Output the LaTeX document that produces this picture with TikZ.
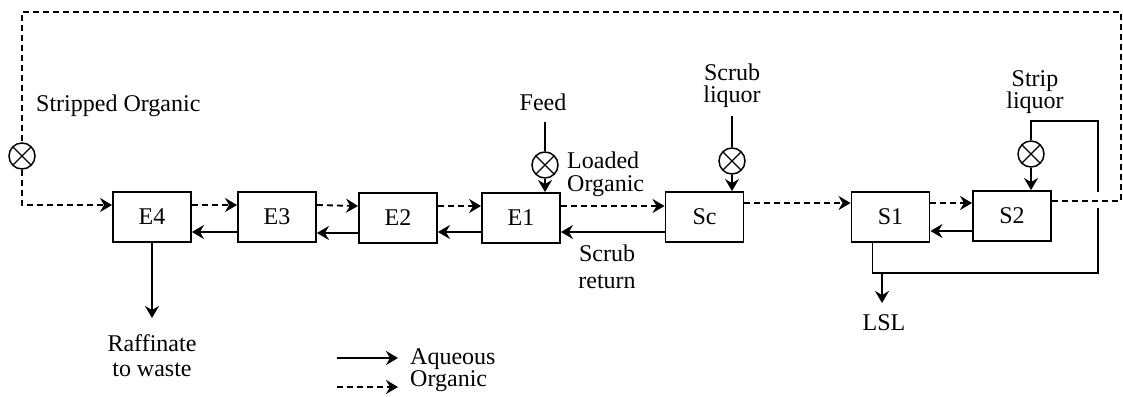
\documentclass[tikz,border=0pt]{standalone}
\usepackage{fontspec}
\setmainfont{Liberation Serif}
\usetikzlibrary{arrows.meta,calc}
\begin{document}
\begin{tikzpicture}[x=1pt,y=-1pt,
  every node/.style={font=\fontsize{24}{24}\selectfont, inner sep=0pt},
  unit/.style={draw, line width=1.9pt, minimum width=78pt, minimum height=50pt},
  ln/.style={line width=1.9pt},
  aq/.style={ln, -{Stealth[length=12pt,width=14pt,inset=4pt]}},
  orgline/.style={ln, dash pattern=on 6pt off 4pt},
  org/.style={aq, dash pattern=on 6pt off 4pt},
  valve/.style={circle, draw, line width=1.5pt, minimum size=26pt,
    path picture={\draw[line width=1.3pt] (path picture bounding box.north west) -- (path picture bounding box.south east)
      (path picture bounding box.north east) -- (path picture bounding box.south west);}}]
\useasboundingbox (0,0) rectangle (1123,396);

% units
\node[unit] (E4) at (152,217) {E4};
\node[unit] (E3) at (277,217) {E3};
\node[unit] (E2) at (398,218) {E2};
\node[unit] (E1) at (521,218) {E1};
\node[unit] (Sc) at (704.5,217) {Sc};
\node[unit] (S1) at (890.5,217) {S1};
\node[unit] (S2) at (1012,216) {S2};

% organic forward
\draw[org] ([yshift=12]E4.east) -- ([yshift=12]E3.west);
\draw[org] ([yshift=12]E3.east) -- ([yshift=12]E2.west);
\draw[org] ([yshift=12]E2.east) -- ([yshift=12]E1.west);
\draw[org] ([yshift=12]E1.east) -- ([yshift=12]E1.east -| Sc.west);
\draw[org] ([yshift=14]Sc.east) -- ([yshift=14]Sc.east -| S1.west);
\draw[org] ([yshift=14]S1.east) -- ([yshift=14]S1.east -| S2.west);

% aqueous backward
\draw[aq] ([yshift=-15]E3.west) -- ([yshift=-15]E3.west -| E4.east);
\draw[aq] ([yshift=-15]E2.west) -- ([yshift=-15]E2.west -| E3.east);
\draw[aq] ([yshift=-14]E1.west) -- ([yshift=-14]E1.west -| E2.east);
\draw[aq] ([yshift=-15]Sc.west) -- ([yshift=-15]Sc.west -| E1.east);
\draw[aq] ([yshift=-15]S2.west) -- ([yshift=-15]S2.west -| S1.east);

% stripped organic recycle
\node[valve] (SOV) at (22,156) {};
\coordinate (rc) at (1121,201);
\coordinate (tr) at (1121,12);
\coordinate (tl) at (22,12);
\draw[orgline] ([yshift=15]S2.east) -- (rc) -- (tr) -- (tl) -- (SOV.north);
\draw[org] (SOV.south) |- ([yshift=12]E4.west);
\node[anchor=west] (SOt) at (36,106) {Stripped Organic};

% raffinate
\coordinate (raf) at (152,318);
\draw[aq] (E4.south) -- (raf);
\node[align=center, font=\fontsize{24}{25}\selectfont] (RAt) at (152,356) {Raffinate\\to waste};

% feed
\node (FDt) at (543,102) {Feed};
\node[valve] (FV) at (545,165) {};
\coordinate (fd) at (545,122);
\draw[ln] (fd) -- (FV.north);
\draw[aq] (FV.south) -- (FV.south |- E1.north);
\node[align=left, anchor=west, font=\fontsize{24}{23}\selectfont] (LOt) at (567,174) {Loaded\\Organic};
\node[align=center, font=\fontsize{24}{27}\selectfont] (SRt) at (607,267) {Scrub\\return};

% scrub liquor
\node[align=center, font=\fontsize{24}{22}\selectfont] (SLt) at (732,86) {Scrub\\liquor};
\node[valve] (SV) at (732,161) {};
\coordinate (sl) at (732,116);
\draw[ln] (sl) -- (SV.north);
\draw[aq] (SV.south) -- (SV.south |- Sc.north);

% strip liquor loop
\node[align=center, font=\fontsize{24}{22}\selectfont] (STt) at (1035,92) {Strip\\liquor};
\node[valve] (STV) at (1031,154) {};
\coordinate (lb) at (1098,273);
\coordinate (lg1) at (1098,208);
\coordinate (lg2) at (1098,192);
\coordinate (lt) at (1098,121);
\draw[ln] ([xshift=-18]S1.south) |- (lb) -- (lg1);
\draw[ln] (lg2) -- (lt) -| (STV.north);
\draw[aq] (STV.south) -- (STV.south |- S2.north);
\coordinate (lslA) at (882,273);
\coordinate (lslB) at (882,303);
\draw[aq] (lslA) -- (lslB);
\node (LSLt) at (884,323) {LSL};

% legend
\coordinate (la1) at (337,358);
\coordinate (la2) at (398,358);
\coordinate (lo1) at (337,387);
\coordinate (lo2) at (398,387);
\draw[aq] (la1) -- (la2);
\draw[org] (lo1) -- (lo2);
\node[anchor=west] (AQt) at (410,359) {Aqueous};
\node[anchor=west] (ORt) at (410,381) {Organic};
\end{tikzpicture}
\end{document}
